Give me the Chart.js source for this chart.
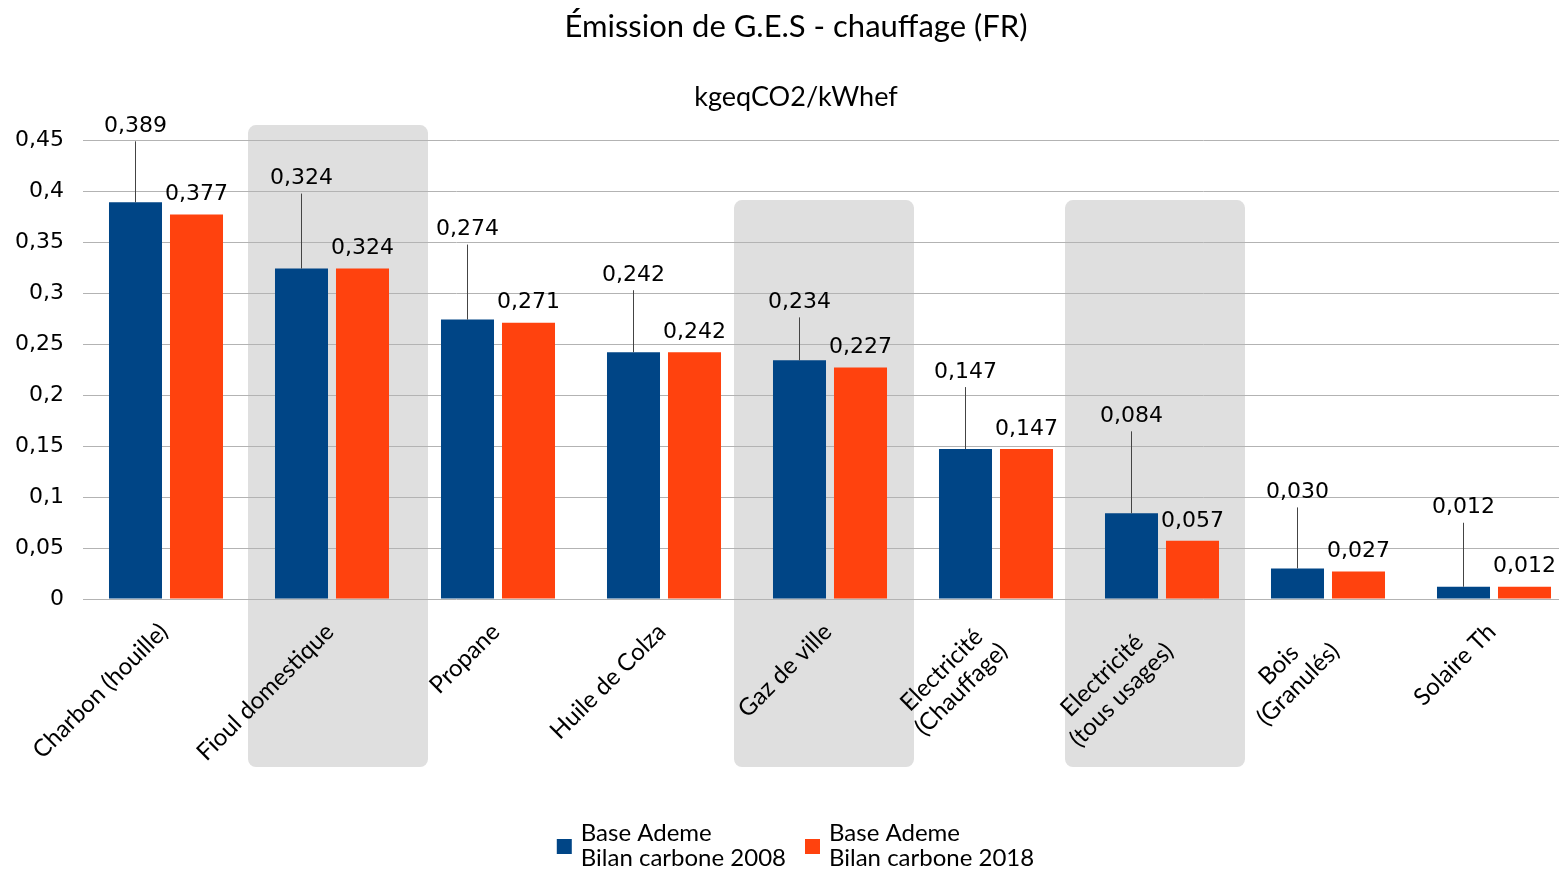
<!DOCTYPE html>
<html lang="fr">
<head>
<meta charset="utf-8">
<title>Émission de G.E.S - chauffage (FR)</title>
<script src="https://cdn.jsdelivr.net/npm/chart.js@4/dist/chart.umd.min.js"></script>
<style>
    html, body { margin: 0; padding: 0; background: #fff; overflow: hidden; }
    #wrap { width: 1591px; height: 870px; }
</style>
</head>
<body>
<div id="wrap"><canvas id="chart" width="1591" height="870"></canvas></div>
<script>
// Données
const categories = [
    'Charbon (houille)',
    'Fioul domestique',
    'Propane',
    'Huile de Colza',
    'Gaz de ville',
    ['Electricité', '(Chauffage)'],
    ['Electricité', '(tous usages)'],
    ['Bois', '(Granulés)'],
    'Solaire Th',
];
const seriesNames = [
    ['Base Ademe', 'Bilan carbone 2008'],
    ['Base Ademe', 'Bilan carbone 2018'],
];
const values2008 = [0.389, 0.324, 0.274, 0.242, 0.234, 0.147, 0.084, 0.030, 0.012];
const values2018 = [0.377, 0.324, 0.271, 0.242, 0.227, 0.147, 0.057, 0.027, 0.012];
const yTicks = [0, 0.05, 0.1, 0.15, 0.2, 0.25, 0.3, 0.35, 0.4, 0.45];

// Mise en forme
const colors = ['#004586', '#ff420e'];
const highlighted = [1, 4, 6];          // catégories sur fond gris
const highlightShift = [6, -6, -7];     // décalage horizontal des fonds (px)
const highlightTop = [-15, 60, 60];     // px par rapport au haut de la zone
const leaderLift = [76, 90, 90, 77, 58, 77, 97, 76, 79]; // étiquettes 2008

const fmt = v => v.toFixed(3).replace('.', ',');

// Fonds gris arrondis
const highlightPlugin = {
    id: 'highlight',
    beforeDraw(chart) {
        const { ctx, chartArea, scales } = chart;
        ctx.save();
        ctx.fillStyle = '#dfdfdf';
        highlighted.forEach((idx, k) => {
            const cx = scales.x.getPixelForValue(idx) + highlightShift[k];
            const top = chartArea.top + highlightTop[k];
            const bottom = chartArea.bottom + 168;
            ctx.beginPath();
            ctx.roundRect(cx - 90, top, 180, bottom - top, 8);
            ctx.fill();
        });
        ctx.restore();
    },
};

// Étiquettes de l'axe X (lignes centrées, 45°)
const xLabelPlugin = {
    id: 'xLabels',
    afterDraw(chart) {
        const { ctx, scales } = chart;
        const lh = 27.6;
        ctx.save();
        ctx.font = '24px Lato';
        ctx.fillStyle = '#000';
        ctx.textAlign = 'center';
        ctx.textBaseline = 'middle';
        categories.forEach((cat, i) => {
            const lines = Array.isArray(cat) ? cat : [cat];
            const w = Math.max(...lines.map(l => ctx.measureText(l).width));
            const x = scales.x.getPixelForValue(i) - 12 - 10 * (lines.length - 1);
            const y = scales.x.top + 19;
            ctx.save();
            ctx.translate(x, y);
            ctx.rotate(-Math.PI / 4);
            lines.forEach((line, j) => ctx.fillText(line, -w / 2, lh * (j + 0.5)));
            ctx.restore();
        });
        ctx.restore();
    },
};

// Étiquettes de valeurs
const labelPlugin = {
    id: 'valueLabels',
    afterDatasetsDraw(chart) {
        const { ctx } = chart;
        ctx.save();
        ctx.font = '22px "DejaVu Sans"';
        ctx.textAlign = 'center';
        ctx.textBaseline = 'middle';
        chart.data.datasets.forEach((ds, d) => {
            chart.getDatasetMeta(d).data.forEach((bar, i) => {
                const text = fmt(ds.data[i]);
                ctx.fillStyle = '#000';
                if (d === 0) {
                    const ly = bar.y - leaderLift[i];
                    ctx.strokeStyle = '#444';
                    ctx.lineWidth = 1;
                    ctx.beginPath();
                    ctx.moveTo(Math.round(bar.x) + 0.5, ly + 15);
                    ctx.lineTo(Math.round(bar.x) + 0.5, bar.y);
                    ctx.stroke();
                    ctx.fillText(text, bar.x, ly);
                } else {
                    ctx.fillText(text, bar.x, bar.y - 20);
                }
            });
        });
        ctx.restore();
    },
};

// Légende sur deux lignes
const legendPlugin = {
    id: 'twoLineLegend',
    afterDraw(chart) {
        const { ctx } = chart;
        ctx.save();
        ctx.font = '24px Lato';
        ctx.textBaseline = 'middle';
        ctx.textAlign = 'left';
        const box = 15, gap = 9, spacing = 19;
        const widths = seriesNames.map(lines => Math.max(...lines.map(l => ctx.measureText(l).width)));
        const total = widths.reduce((a, w) => a + box + gap + w, 0) + spacing * (widths.length - 1);
        let x = chart.width / 2 - total / 2;
        const y1 = chart.height - 37, y2 = chart.height - 12;
        seriesNames.forEach((lines, k) => {
            ctx.fillStyle = colors[k];
            ctx.fillRect(x, (y1 + y2) / 2 - box / 2 + 1, box, box);
            ctx.fillStyle = '#000';
            ctx.fillText(lines[0], x + box + gap, y1);
            ctx.fillText(lines[1], x + box + gap, y2);
            x += box + gap + widths[k] + spacing;
        });
        ctx.restore();
    },
};

const chart = new Chart(document.getElementById('chart'), {
    type: 'bar',
    data: {
        labels: categories,
        datasets: [
            {
                label: seriesNames[0].join(' '),
                data: values2008,
                backgroundColor: colors[0],
                categoryPercentage: 0.735,
                barPercentage: 0.869,
            },
            {
                label: seriesNames[1].join(' '),
                data: values2018,
                backgroundColor: colors[1],
                categoryPercentage: 0.735,
                barPercentage: 0.869,
            },
        ],
    },
    options: {
        responsive: false,
        animation: false,
        devicePixelRatio: 1,
        layout: { padding: { left: 15, right: 14, top: 0, bottom: 101 } },
        plugins: {
            legend: { display: false },
            tooltip: { enabled: false },
            title: {
                display: true,
                text: 'Émission de G.E.S - chauffage (FR)',
                color: '#000',
                font: { family: 'Lato', size: 31, weight: 'normal' },
                padding: { top: 8, bottom: 35.5 },
            },
            subtitle: {
                display: true,
                text: 'kgeqCO2/kWhef',
                color: '#000',
                font: { family: 'Lato', size: 27, weight: 'normal' },
                padding: { top: 0, bottom: 27 },
            },
        },
        scales: {
            x: {
                grid: { display: false },
                border: { display: false },
                ticks: { display: false },
                afterFit(scale) { scale.height = 170; },
            },
            y: {
                min: 0,
                max: 0.45,
                grid: { color: '#b3b3b3', drawTicks: false },
                border: { display: false },
                afterBuildTicks(scale) { scale.ticks = yTicks.map(v => ({ value: v })); },
                ticks: {
                    color: '#000',
                    font: { family: 'DejaVu Sans', size: 22 },
                    padding: 19,
                    callback: v => String(Math.round(v * 100) / 100).replace('.', ','),
                },
                afterFit(scale) { scale.width = 68; },
            },
        },
    },
    plugins: [highlightPlugin, xLabelPlugin, labelPlugin, legendPlugin],
});
</script>
</body>
</html>
